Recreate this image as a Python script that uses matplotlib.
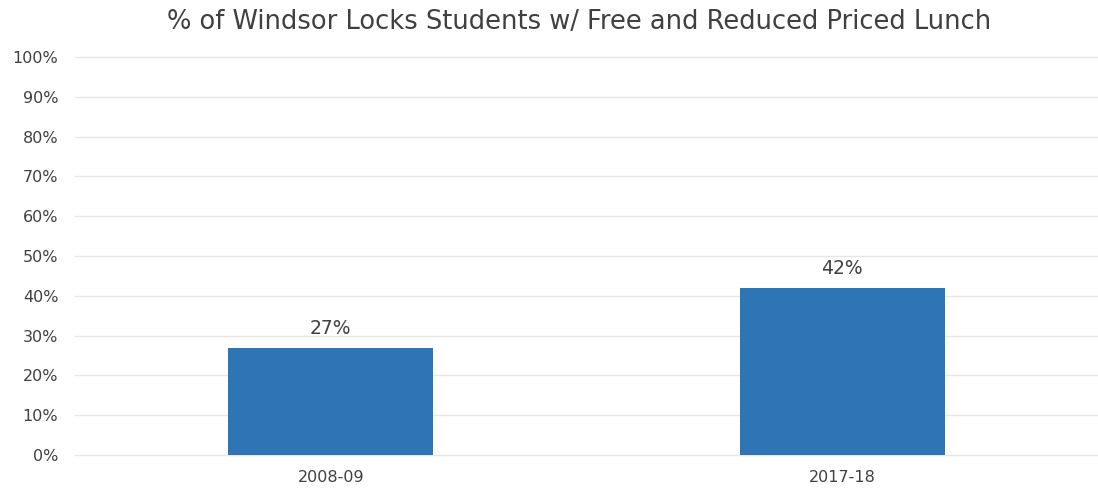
import matplotlib
matplotlib.use("Agg")
import matplotlib.pyplot as plt
from matplotlib.ticker import PercentFormatter

categories = ["2008-09", "2017-18"]
values = [27, 42]
yticks = list(range(0, 101, 10))

title = "% of Windsor Locks Students w/ Free and Reduced Priced Lunch"
bar_color = "#2e75b6"
text_color = "#404040"

plt.rcParams["font.family"] = ["DejaVu Sans"]

fig = plt.figure(figsize=(10.98, 4.94), dpi=100)
ax = fig.add_axes([0.0683, 0.079, 0.9317, 0.8057])

x = range(len(categories))
bars = ax.bar(x, values, width=0.40, color=bar_color, zorder=3)
for b, v in zip(bars, values):
    ax.text(b.get_x() + b.get_width() / 2, v + 2.4, f"{v}%",
            ha="center", va="bottom", fontsize=13.5, color=text_color)

ax.set_xlim(-0.5, 1.5)
ax.set_ylim(0, 100)
ax.set_yticks(yticks)
ax.yaxis.set_major_formatter(PercentFormatter(decimals=0))
ax.set_xticks(list(x))
ax.set_xticklabels(categories)
ax.tick_params(axis="both", length=0, labelsize=11.5, colors=text_color)
ax.tick_params(axis="y", pad=12)
ax.tick_params(axis="x", pad=11)
ax.grid(axis="y", color="#e6e6e6", linewidth=1, zorder=0)
for gl in ax.get_ygridlines():
    gl.set_clip_on(False)
for s in ax.spines.values():
    s.set_visible(False)

fig.text(0.527, 0.955, title, ha="center", va="center", fontsize=18.5, color=text_color)

fig.savefig("out.png", dpi=100, facecolor="white")
